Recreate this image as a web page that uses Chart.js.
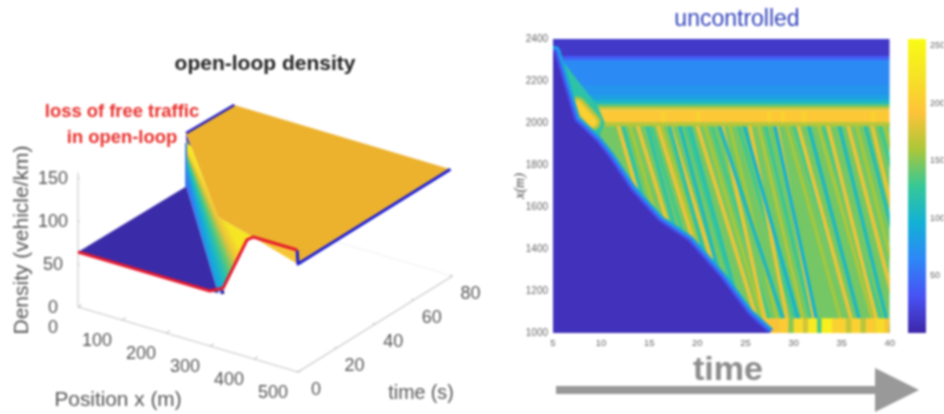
<!DOCTYPE html>
<html>
<head>
<meta charset="utf-8">
<script src="https://cdn.jsdelivr.net/npm/chart.js@4/dist/chart.umd.min.js"></script>
<style>
    html, body { margin: 0; padding: 0; background: #fff; overflow: hidden; }
    canvas { position: absolute; }
    #surface-chart { left: 0; top: 0; filter: blur(0.8px); }
    #heat-chart { left: 510px; top: 25px; filter: blur(1.1px); }
    #colorbar-chart { left: 900px; top: 25px; filter: blur(0.9px); }
</style>
</head>
<body>
<canvas id="surface-chart" width="944" height="414"></canvas>
<canvas id="heat-chart" width="390" height="330"></canvas>
<canvas id="colorbar-chart" width="44" height="330"></canvas>
<script>
// Left panel: open-loop density surface, points are [position m, time s, density veh/km]
const positionTicks = [0, 100, 200, 300, 400, 500];
const timeTicks = [0, 20, 40, 60, 80];
const densityTicks = [0, 50, 100, 150];
const freeFlowSheet = [[0, 0, 64], [318, 0, 64], [0, 56, 62]];
const fanSheet = [[0, 56, 62], [0, 56, 124], [270, 11, 130], [398, 0, 141.5], [384, 0, 136], [330, 0, 72], [318, 0, 64]];
const jamSheet = [[0, 56, 124], [0, 81, 122], [500, 79, 125.5], [500, 0, 125.5], [398, 0, 141.5], [270, 11, 130]];
const humpSheet = [[398, 0, 141.5], [498, 0, 141.5], [500, 0, 125.5]];
const redEdge = [[0, 0, 64], [300, 0, 64], [330, 0, 72], [384, 0, 136], [398, 0, 141.5], [498, 0, 141.5]];
const blueEdgeBack = [[0, 56, 124], [0, 81, 122]];
const blueEdgeFront = [[498, 0, 141.5], [500, 0, 125.5], [500, 79, 125.5]];
const wallEdge = [[0, 56, 112], [0, 56, 62]];
const cornerMark = [[324, 0, 66], [332, 0, 68]];
const fanAngle = [50, 62, 66, 69.5, 72, 74.5, 78, 83, 90];
const fanShade = [0.92, 0.88, 0.72, 0.55, 0.45, 0.36, 0.22, 0.12, 0.08];

// Right panel: uncontrolled density map, time s / position m / density
const heatTimeTicks = [5, 10, 15, 20, 25, 30, 35, 40];
const heatPosTicks = [1000, 1200, 1400, 1600, 1800, 2000, 2200, 2400];
const colorTicks = [50, 100, 150, 200, 250];
const bandEdges = [2400, 2319, 2300, 2181, 2133, 2109, 2090, 2076, 2061, 2004, 1985];
const bandDensity = [14, 40, 66, 74, 84, 105, 140, 175, 197, 165];
const bodyDensity = 145;
const frontTime = [5.0, 5.2, 7.3, 9.5, 10.9, 13.2, 16.0, 19.1, 22.5, 25.3, 27.5];
const frontPos = [2340, 2340, 2014, 1918, 1837, 1680, 1537, 1441, 1265, 1093, 1000];
const wedgeTime = [5.2, 9.6, 10.4, 9.5, 7.3, 5.2];
const wedgePos = [2340, 2085, 2000, 1900, 2000, 2340];
const blobTime = [7.5, 9.1];
const blobPos = [2085, 2005];
// stripes: time at 2000 m, time at 1050 m
const orangeStart = [11.7, 13.7, 15.8, 17.1, 19.9, 22.5, 25.4, 28.2, 30.4, 33.5, 35.6, 38.1];
const orangeEnd = [17.7, 20.1, 22.2, 23.5, 26.3, 27.1, 29.4, 32.2, 36.1, 38.7, 41, 43];
const tealStart = [12.2, 14.7, 17.0, 18.1, 19.1, 22.2, 24.8, 28.0, 31.5, 34.7, 37.4];
const tealEnd = [18.2, 20.6, 23.0, 23.9, 25.1, 29.4, 30.9, 32.7, 37.2, 40, 43];
const tealDensity = [120, 120, 117, 107, 117, 103, 99, 97, 105, 107, 113];
const faintStart = [12.9, 15.1, 16.2, 18.7, 20.7, 21.4, 23.3, 24.2, 26.3, 27.0, 29.2, 30.0, 32.5, 33.0, 36.5, 38.9, 39.4];
const faintEnd = [18.9, 21.2, 22.6, 24.7, 26.9, 27.6, 28.4, 30.2, 31.1, 31.9, 35.0, 36.2, 38.3, 39.2, 41.8, 44.5, 45];
const faintDensity = [160, 130, 160, 130, 160, 130, 160, 130, 165, 125, 160, 128, 162, 130, 160, 128, 160];
const bandSpotTime = [16.5, 20.1, 27.5, 28.9, 31.1, 38.3];
const queueEdges = [27, 28.5, 29.5, 30, 31, 31.5, 32.5, 32.9, 34, 35.5, 36, 37, 37.5, 38.5, 39.5, 40];
const queueDensity = [190, 200, 150, 215, 175, 232, 130, 240, 205, 170, 205, 165, 200, 215, 190];

// Parula colour map
const parulaStops = [
    [0, 62, 38, 168], [0.125, 72, 82, 244], [0.25, 46, 135, 247], [0.375, 18, 177, 214],
    [0.5, 55, 200, 151], [0.625, 171, 199, 57], [0.75, 254, 195, 56], [0.875, 246, 227, 38], [1, 249, 251, 21]
];

function parula(f) {
    for (let i = 1; i < parulaStops.length; i++) {
        const a = parulaStops[i - 1];
        const b = parulaStops[i];
        if (f <= b[0]) {
            const k = Math.max(0, (f - a[0]) / (b[0] - a[0]));
            return `rgb(${a[1] + (b[1] - a[1]) * k},${a[2] + (b[2] - a[2]) * k},${a[3] + (b[3] - a[3]) * k})`;
        }
    }
    return 'rgb(249,251,21)';
}

function densityColor(v) {
    return parula(v / 256);
}

// Fixed view of the 3-D axes
function project(p, t, d) {
    return { x: 78 + 0.44 * p + 1.93 * t, y: 307 + 0.13 * p - 1.2 * t - 0.86 * d };
}

function projectAll(points) {
    return points.map(q => project(q[0], q[1], q[2]));
}

function lineSet(data, color, width, cap) {
    return { data, showLine: true, borderColor: color, borderWidth: width, pointRadius: 0, fill: false, clip: 0, borderJoinStyle: 'round', borderCapStyle: cap || 'butt' };
}

function areaSet(data, color) {
    return { data, showLine: true, borderWidth: 0, borderColor: 'transparent', backgroundColor: color, pointRadius: 0, fill: 'shape', clip: 0 };
}

function fanGradient(context) {
    const chart = context.chart;
    const cx = chart.scales.x.getPixelForValue(177);
    const cy = chart.scales.y.getPixelForValue(130);
    if (!isFinite(cx) || !isFinite(cy)) return '#888';
    const grad = chart.ctx.createConicGradient(fanAngle[0] * Math.PI / 180, cx, cy);
    fanAngle.forEach((a, i) => grad.addColorStop((a - fanAngle[0]) / 360, parula(fanShade[i])));
    grad.addColorStop(1, parula(0.05));
    return grad;
}

// Surface chart
const axisSets = [];
axisSets.push(lineSet(projectAll([[0, 80, 0], [500, 80, 0]]), '#efefef', 1));
axisSets.push(lineSet(projectAll([[0, 0, 0], [0, 0, 156]]), '#cfcfcf', 1.2));
axisSets.push(lineSet(projectAll([[0, 0, 0], [500, 0, 0], [500, 80, 0]]), '#c8c8c8', 1.2));
positionTicks.forEach(p => axisSets.push(lineSet(projectAll([[p, 0, 0], [p, 2, 0]]), '#bbbbbb', 1)));
timeTicks.forEach(t => axisSets.push(lineSet(projectAll([[500, t, 0], [495, t, 0]]), '#bbbbbb', 1)));
densityTicks.forEach(d => axisSets.push(lineSet(projectAll([[0, 0, d], [4, 0, d]]), '#bbbbbb', 1)));

const arrowShaftX = [556, 875, 875, 556];
const arrowShaftY = [386, 386, 394, 394];
const arrowHeadX = [875, 919, 875];
const arrowHeadY = [368, 390, 412];

const surfaceSets = axisSets.concat([
    areaSet(projectAll(fanSheet), fanGradient),
    areaSet(projectAll(freeFlowSheet), '#3a2ba8'),
    areaSet(projectAll(jamSheet), '#ecb22e'),
    areaSet(projectAll(humpSheet), '#f6c535'),
    lineSet(projectAll(wallEdge), '#3a7fe6', 2),
    lineSet(projectAll(blueEdgeBack), '#2a22c0', 2.5),
    lineSet(projectAll(blueEdgeFront), '#1c1cd6', 3),
    lineSet(projectAll(redEdge), '#e6192e', 3),
    lineSet(projectAll(cornerMark), '#2a1fa0', 4),
    areaSet(arrowShaftX.map((x, i) => ({ x, y: arrowShaftY[i] })), '#999999'),
    areaSet(arrowHeadX.map((x, i) => ({ x, y: arrowHeadY[i] })), '#999999')
]);

// Text of the left panel and of the page
const surfaceText = {
    id: 'surfaceText',
    afterDraw(chart) {
        const ctx = chart.ctx;
        const put = (text, x, y, font, color, rotate) => {
            ctx.save();
            ctx.translate(x, y);
            if (rotate) ctx.rotate(rotate);
            ctx.font = font;
            ctx.fillStyle = color;
            ctx.textAlign = 'center';
            ctx.textBaseline = 'alphabetic';
            ctx.fillText(text, 0, 0);
            ctx.restore();
        };
        const tickFont = '18px "Liberation Sans"';
        densityTicks.forEach(d => {
            const q = project(0, 0, d);
            put(String(d), q.x - 25, q.y + 6, tickFont, '#555');
        });
        positionTicks.forEach(p => {
            const q = project(p, 0, 0);
            put(String(p), q.x - 25, q.y + 26, tickFont, '#555');
        });
        timeTicks.forEach(t => {
            const q = project(500, t, 0);
            put(String(t), q.x + 18, q.y + 23, tickFont, '#555');
        });
        put('Density (vehicle/km)', 28, 240, '21px "Liberation Sans"', '#555', -Math.PI / 2);
        put('Position x (m)', 118, 406, '20.8px "Liberation Sans"', '#555');
        put('time (s)', 421, 399, '19.6px "Liberation Sans"', '#555');
        put('open-loop density', 265, 70, 'bold 21px "Liberation Sans"', '#222');
        put('loss of free traffic', 122, 117, 'bold 18.4px "Liberation Sans"', '#e8302c');
        put('in open-loop', 122, 143, 'bold 18.4px "Liberation Sans"', '#e8302c');
        put('uncontrolled', 737, 26, '23px "Liberation Sans"', '#3344bb');
        put('time', 728, 380, 'bold 34px "Liberation Sans"', '#8c8c8c');
    }
};

new Chart(document.getElementById('surface-chart'), {
    type: 'scatter',
    data: { datasets: surfaceSets.slice().reverse() },
    options: {
        responsive: false,
        animation: false,
        events: [],
        layout: { padding: 0 },
        plugins: { legend: { display: false }, tooltip: { enabled: false } },
        scales: {
            x: { type: 'linear', display: false, min: 0, max: 944 },
            y: { type: 'linear', display: false, min: 0, max: 414, reverse: true }
        }
    },
    plugins: [surfaceText]
});

// Density map chart
function rect(t0, t1, x0, x1) {
    return [{ x: t0, y: x0 }, { x: t1, y: x0 }, { x: t1, y: x1 }, { x: t0, y: x1 }];
}

const heatSets = [];
heatSets.push(areaSet(rect(5, 40, 2004, 1000), densityColor(bodyDensity)));
faintStart.forEach((t, i) => {
    heatSets.push(lineSet([{ x: t, y: 2000 }, { x: faintEnd[i], y: 1050 }], densityColor(faintDensity[i]), 3));
});
orangeStart.forEach((t, i) => {
    heatSets.push(lineSet([{ x: t, y: 2000 }, { x: orangeEnd[i], y: 1050 }], densityColor(186), 3.8));
});
tealStart.forEach((t, i) => {
    heatSets.push(lineSet([{ x: t, y: 2000 }, { x: tealEnd[i], y: 1000 }], densityColor(tealDensity[i]), 3.5));
});
bandDensity.forEach((v, i) => {
    heatSets.push(areaSet(rect(5, 40, bandEdges[i], bandEdges[i + 1]), densityColor(v)));
});
bandSpotTime.forEach(t => {
    heatSets.push(lineSet([{ x: t, y: 2050 }, { x: t, y: 2012 }], densityColor(208), 4));
});
heatSets.push(areaSet(wedgeTime.map((t, i) => ({ x: t, y: wedgePos[i] })), densityColor(120)));
const blobLine = blobTime.map((t, i) => ({ x: t, y: blobPos[i] }));
heatSets.push(lineSet(blobLine, densityColor(150), 18, 'round'));
heatSets.push(lineSet(blobLine, densityColor(178), 13, 'round'));
heatSets.push(lineSet(blobLine, densityColor(205), 8, 'round'));
queueDensity.forEach((v, i) => {
    heatSets.push(areaSet(rect(queueEdges[i], queueEdges[i + 1], 1070, 1000), densityColor(v)));
});
const frontLine = frontTime.map((t, i) => ({ x: t, y: frontPos[i] }));
heatSets.push(lineSet(frontLine, densityColor(85), 11));
heatSets.push(lineSet(frontLine, densityColor(50), 6));
heatSets.push(areaSet(frontLine.concat([{ x: 5, y: 1000 }]), densityColor(8)));
heatSets.push(lineSet(frontLine, densityColor(25), 2));

new Chart(document.getElementById('heat-chart'), {
    type: 'scatter',
    data: { datasets: heatSets.reverse() },
    options: {
        responsive: false,
        animation: false,
        events: [],
        layout: { padding: { top: 14, right: 3, bottom: 0, left: 0 } },
        plugins: { legend: { display: false }, tooltip: { enabled: false } },
        scales: {
            x: {
                type: 'linear', min: 5, max: 40,
                grid: { display: false, drawTicks: false },
                border: { display: false },
                afterBuildTicks: axis => { axis.ticks = heatTimeTicks.map(value => ({ value })); },
                afterFit: axis => { axis.height = 22; },
                ticks: { color: '#666', font: { family: 'Liberation Sans', size: 9.5 }, padding: 5, maxRotation: 0, autoSkip: false, callback: v => String(v) }
            },
            y: {
                type: 'linear', min: 1000, max: 2400,
                grid: { display: false, drawTicks: false },
                border: { display: false },
                afterBuildTicks: axis => { axis.ticks = heatPosTicks.map(value => ({ value })); },
                afterFit: axis => { axis.width = 43; },
                title: { display: true, text: 'x(m)', color: '#444', padding: 2, font: { family: 'Liberation Serif', size: 14, style: 'italic' } },
                ticks: { color: '#666', font: { family: 'Liberation Sans', size: 10 }, padding: 5, autoSkip: false, callback: v => String(v) }
            }
        }
    }
});

// Colour bar chart
function barGradient(context) {
    const chart = context.chart;
    const area = chart.chartArea;
    if (!area) return '#888';
    const grad = chart.ctx.createLinearGradient(0, area.bottom, 0, area.top);
    parulaStops.forEach(s => grad.addColorStop(s[0], parula(s[0])));
    return grad;
}

new Chart(document.getElementById('colorbar-chart'), {
    type: 'bar',
    data: {
        labels: [''],
        datasets: [{ data: [[0, 256]], backgroundColor: barGradient, barPercentage: 1, categoryPercentage: 1 }]
    },
    options: {
        responsive: false,
        animation: false,
        events: [],
        layout: { padding: { top: 14, right: 0, bottom: 22, left: 8 } },
        plugins: { legend: { display: false }, tooltip: { enabled: false } },
        scales: {
            x: { display: false },
            y: {
                position: 'right', min: 0, max: 256,
                grid: { display: false, drawTicks: false },
                border: { display: false },
                afterBuildTicks: axis => { axis.ticks = colorTicks.map(value => ({ value })); },
                afterFit: axis => { axis.width = 18; },
                ticks: { color: '#666', font: { family: 'Liberation Sans', size: 9 }, padding: 4, autoSkip: false }
            }
        }
    }
});
</script>
</body>
</html>
